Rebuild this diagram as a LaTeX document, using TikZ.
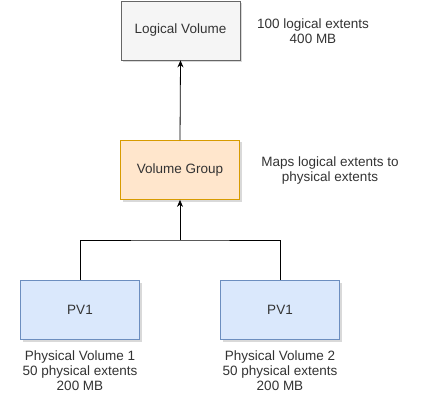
\documentclass[tikz,border=0pt]{standalone}
\usepackage{fontspec}
\setmainfont{Liberation Sans}
\usetikzlibrary{arrows.meta, positioning, shadows}
\definecolor{cGrayFill}{HTML}{F5F5F5}
\definecolor{cGrayLine}{HTML}{666666}
\definecolor{cOrangeFill}{HTML}{FFE6CC}
\definecolor{cOrangeLine}{HTML}{D79B00}
\definecolor{cBlueFill}{HTML}{DAE8FC}
\definecolor{cBlueLine}{HTML}{6C8EBF}
\definecolor{cText}{HTML}{333333}
\tikzset{
	volbox/.style={rectangle, minimum width=119pt, minimum height=59pt, text centered, align=center, line width=0.8pt, text=cText,
		drop shadow={shadow xshift=2pt, shadow yshift=-2pt, fill=black!25, opacity=0.6}},
	lvbox/.style ={volbox, draw=cGrayLine, fill=cGrayFill},
	vgbox/.style ={volbox, draw=cOrangeLine, fill=cOrangeFill},
	pvbox/.style ={volbox, draw=cBlueLine, fill=cBlueFill},
	note/.style  ={align=center, text=cText, inner sep=0pt},
	sig/.style   ={-{Stealth[length=7pt, width=6pt]}, line width=0.8pt},
}
\begin{document}
\begin{tikzpicture}[x=1pt, y=-1pt, font=\fontsize{13.5}{15}\selectfont]
	\useasboundingbox (0,0) rectangle (422,406);
	% boxes
	\node[lvbox] (lv)  at (180.5,30.5) {Logical Volume};
	\node[vgbox] (vg)  at (180,170)    {Volume Group};
	\node[pvbox] (pv1) at (80,310)     {PV1};
	\node[pvbox] (pv2) at (280,310)    {PV1};
	% notes
	\node[note] (lvnote)  at (313,31)  {100 logical extents\\400 MB};
	\node[note] (vgnote)  at (330,171) {Maps logical extents to\\physical extents};
	\node[note] (pv1note) at (80,371)  {Physical Volume 1\\50 physical extents\\200 MB};
	\node[note] (pv2note) at (280,371) {Physical Volume 2\\50 physical extents\\200 MB};
	% connectors
	\coordinate (join) at (180,240);
	\draw[line width=0.8pt] (pv1.north) |- (join) -| (pv2.north);
	\draw[sig] (join) -- (vg.south);
	\draw[sig] (vg.north) -- (lv.south);
\end{tikzpicture}
\end{document}
